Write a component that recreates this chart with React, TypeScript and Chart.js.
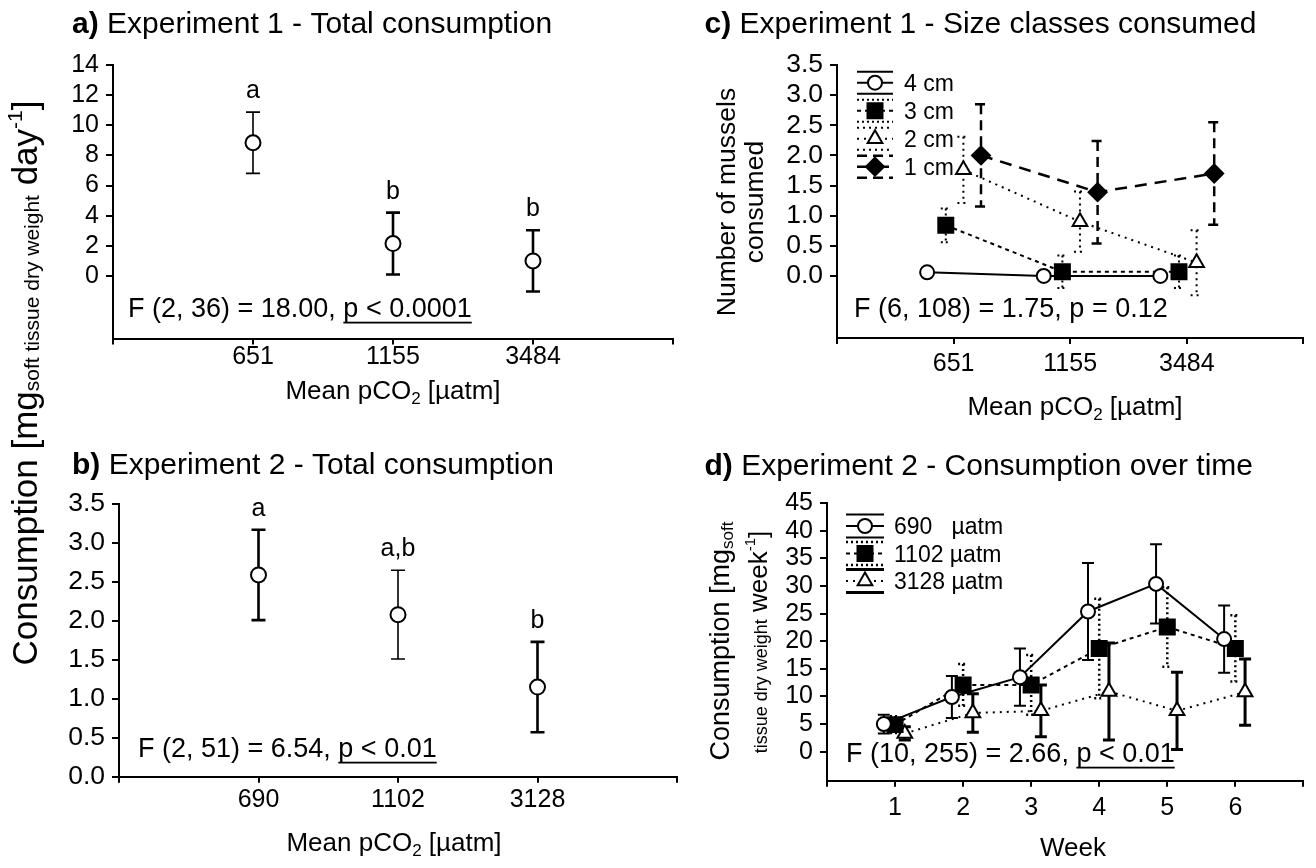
import React, { useEffect, useRef } from 'react';
import { Chart, registerables } from 'chart.js';

Chart.register(...registerables);

const FONT = '"Liberation Sans", Arial, Helvetica, sans-serif';
const PAGE_W = 1316;
const PAGE_H = 868;

// ---------------- data ----------------
const expOneCo2 = ['651', '1155', '3484'];
const expTwoCo2 = ['690', '1102', '3128'];
const weeks = ['1', '2', '3', '4', '5', '6'];

// a) Experiment 1 - total consumption
const aMean = [8.84, 2.15, 1.0];
const aSE = [2.03, 2.05, 2.03];
const aGroups = ['a', 'b', 'b'];
const aYTicks = [0, 2, 4, 6, 8, 10, 12, 14];

// b) Experiment 2 - total consumption
const bMean = [2.59, 2.08, 1.15];
const bSE = [0.58, 0.57, 0.58];
const bGroups = ['a', 'a,b', 'b'];
const bYTicks = [0, 0.5, 1, 1.5, 2, 2.5, 3, 3.5];

// c) Experiment 1 - size classes consumed
const cSizeLabels = ['4 cm', '3 cm', '2 cm', '1 cm'];
const c4cm = [0.06, 0.0, 0.0];
const c4cmSE = [0, 0, 0];
const c3cm = [0.84, 0.07, 0.07];
const c3cmSE = [0.28, 0.27, 0.27];
const c2cm = [1.76, 0.9, 0.22];
const c2cmSE = [0.55, 0.5, 0.54];
const c1cm = [2.0, 1.39, 1.7];
const c1cmSE = [0.85, 0.85, 0.85];
const cYTicks = [0, 0.5, 1, 1.5, 2, 2.5, 3, 3.5];

// d) Experiment 2 - consumption over time
const dLegend = ['690   µatm', '1102 µatm', '3128 µatm'];
const d690 = [5.0, 9.9, 13.5, 25.4, 30.4, 20.4];
const d690SE = [1.7, 3.8, 5.2, 8.8, 7.2, 6.1];
const d1102 = [4.9, 12.1, 12.1, 18.7, 22.6, 18.7];
const d1102SE = [1.5, 3.8, 5.4, 9.0, 7.2, 6.0];
const d3128 = [3.3, 7.0, 7.4, 10.9, 7.4, 10.8];
const d3128SE = [1.2, 3.5, 4.7, 8.8, 7.0, 6.0];
const dYTicks = [0, 5, 10, 15, 20, 25, 30, 35, 40, 45];

// ---------------- text helpers ----------------
type Seg = { t: string; size: number; bold?: boolean; dy?: number; u?: boolean };

const segFont = (s: Seg) => `${s.bold ? 'bold ' : ''}${s.size}px ${FONT}`;

function richWidth(ctx: CanvasRenderingContext2D, segs: Seg[]) {
  let w = 0;
  for (const s of segs) {
    ctx.font = segFont(s);
    w += ctx.measureText(s.t).width;
  }
  return w;
}

function drawRich(ctx: CanvasRenderingContext2D, segs: Seg[], x: number, y: number, align: 'left' | 'center') {
  const total = richWidth(ctx, segs);
  let cx = align === 'center' ? x - total / 2 : x;
  ctx.save();
  ctx.fillStyle = '#000';
  ctx.textAlign = 'left';
  ctx.textBaseline = 'alphabetic';
  for (const s of segs) {
    ctx.font = segFont(s);
    const w = ctx.measureText(s.t).width;
    ctx.fillText(s.t, cx, y + (s.dy || 0));
    if (s.u) ctx.fillRect(cx, y + 5, w, 1.8);
    cx += w;
  }
  ctx.restore();
}

function drawRotated(ctx: CanvasRenderingContext2D, segs: Seg[], baseX: number, centerY: number) {
  ctx.save();
  ctx.translate(baseX, centerY);
  ctx.rotate(-Math.PI / 2);
  drawRich(ctx, segs, 0, 0, 'center');
  ctx.restore();
}

type MarkerKind = 'circle' | 'rect' | 'triangle' | 'rectRot';

function drawMarker(ctx: CanvasRenderingContext2D, kind: MarkerKind, x: number, y: number, r: number, fill: string) {
  ctx.save();
  ctx.setLineDash([]);
  ctx.lineWidth = 2;
  ctx.strokeStyle = '#000';
  ctx.fillStyle = fill;
  ctx.beginPath();
  if (kind === 'circle') {
    ctx.arc(x, y, r, 0, Math.PI * 2);
  } else if (kind === 'rect') {
    const s = r * Math.SQRT1_2;
    ctx.rect(x - s, y - s, 2 * s, 2 * s);
  } else if (kind === 'triangle') {
    for (let k = 0; k < 3; k++) {
      const a = (k * 2 * Math.PI) / 3;
      const px = x + Math.sin(a) * r;
      const py = y - Math.cos(a) * r;
      if (k === 0) ctx.moveTo(px, py);
      else ctx.lineTo(px, py);
    }
    ctx.closePath();
  } else {
    ctx.moveTo(x, y - r);
    ctx.lineTo(x + r, y);
    ctx.lineTo(x, y + r);
    ctx.lineTo(x - r, y);
    ctx.closePath();
  }
  ctx.fill();
  ctx.stroke();
  ctx.restore();
}

type SeriesStyle = {
  kind: MarkerKind;
  r: number;
  fill: string;
  dash: number[];
  width: number;
  errDash: number[];
  errWidth: number;
  cap: number;
  offset: number;
};

function drawLegendRow(ctx: CanvasRenderingContext2D, st: SeriesStyle, cx: number, cy: number, half: number, gap: number) {
  ctx.save();
  ctx.strokeStyle = '#000';
  ctx.setLineDash(st.errDash);
  ctx.lineWidth = st.errWidth;
  ctx.beginPath();
  ctx.moveTo(cx - half, cy - gap);
  ctx.lineTo(cx + half, cy - gap);
  ctx.moveTo(cx - half, cy + gap);
  ctx.lineTo(cx + half, cy + gap);
  ctx.stroke();
  ctx.setLineDash(st.dash);
  ctx.lineWidth = st.width;
  ctx.beginPath();
  ctx.moveTo(cx - half, cy);
  ctx.lineTo(cx + half, cy);
  ctx.stroke();
  ctx.restore();
  drawMarker(ctx, st.kind, cx, cy, st.r, st.fill);
}

// ---------------- error bars plugin ----------------
function drawErrorBars(chart: any) {
  const ctx: CanvasRenderingContext2D = chart.ctx;
  const xs = chart.scales.x;
  const ys = chart.scales.y;
  chart.data.datasets.forEach((ds: any) => {
    if (!ds.se) return;
    ctx.save();
    ctx.strokeStyle = '#000';
    ctx.setLineDash(ds.seDash || []);
    ds.data.forEach((p: any, i: number) => {
      const e = ds.se[i];
      if (!e) return;
      ctx.lineWidth = Array.isArray(ds.seWidth) ? ds.seWidth[i] : ds.seWidth;
      const x = xs.getPixelForValue(p.x);
      const yt = ys.getPixelForValue(p.y + e);
      const yb = ys.getPixelForValue(p.y - e);
      const hw = ds.capHalf;
      ctx.beginPath();
      ctx.moveTo(x, yt);
      ctx.lineTo(x, yb);
      ctx.moveTo(x - hw, yt);
      ctx.lineTo(x + hw, yt);
      ctx.moveTo(x - hw, yb);
      ctx.lineTo(x + hw, yb);
      ctx.stroke();
    });
    ctx.restore();
  });
}

// ---------------- chart config builder ----------------
type Area = { left: number; top: number; right: number; bottom: number };

type Spec = {
  area: Area;
  xMin: number;
  xMax: number;
  xTicks: number[];
  xLabels: string[];
  xPad: number;
  yMin: number;
  yMax: number;
  yTicks: number[];
  yDecimals: number;
  yFont: number;
  datasets: any[];
  decorate: (ctx: CanvasRenderingContext2D, chart: any) => void;
};

function makeConfig(spec: Spec): any {
  const yW = 90;
  const xH = 60;
  const { area } = spec;
  return {
    type: 'line',
    data: { datasets: spec.datasets },
    options: {
      responsive: false,
      animation: false,
      devicePixelRatio: 1,
      events: [],
      layout: {
        padding: {
          left: area.left - yW,
          top: area.top,
          right: PAGE_W - area.right,
          bottom: PAGE_H - area.bottom - xH,
        },
      },
      plugins: { legend: { display: false }, tooltip: { enabled: false } },
      scales: {
        x: {
          type: 'linear',
          min: spec.xMin,
          max: spec.xMax,
          afterBuildTicks: (s: any) => {
            s.ticks = spec.xTicks.map((v) => ({ value: v }));
          },
          afterFit: (s: any) => {
            s.height = xH;
          },
          ticks: {
            callback: (v: any) => {
              const i = Math.round(Number(v)) - 1;
              return i >= 0 && i < spec.xLabels.length ? spec.xLabels[i] : '';
            },
            font: { family: FONT, size: 25, lineHeight: 1.2 },
            color: '#000',
            padding: spec.xPad,
            maxRotation: 0,
            minRotation: 0,
            autoSkip: false,
          },
          grid: {
            display: true,
            drawOnChartArea: false,
            drawTicks: true,
            tickLength: 6,
            tickWidth: 2,
            lineWidth: 2,
            tickColor: '#000',
          },
          border: { display: true, color: '#000', width: 2 },
        },
        y: {
          type: 'linear',
          min: spec.yMin,
          max: spec.yMax,
          afterBuildTicks: (s: any) => {
            s.ticks = spec.yTicks.map((v) => ({ value: v }));
          },
          afterFit: (s: any) => {
            s.width = yW;
          },
          ticks: {
            callback: (v: any) => Number(v).toFixed(spec.yDecimals),
            font: { family: FONT, size: spec.yFont, lineHeight: 1.2 },
            color: '#000',
            padding: 7,
            autoSkip: false,
          },
          grid: {
            display: true,
            drawOnChartArea: false,
            drawTicks: true,
            tickLength: 7,
            tickWidth: 2,
            lineWidth: 2,
            tickColor: '#000',
          },
          border: { display: true, color: '#000', width: 2 },
        },
      },
    },
    plugins: [
      {
        id: 'decor',
        beforeDatasetsDraw: (c: any) => drawErrorBars(c),
        afterDraw: (c: any) => spec.decorate(c.ctx, c),
      },
    ],
  };
}

function seriesDataset(values: number[], se: number[], st: SeriesStyle, showLine: boolean, seWidth?: number[]) {
  return {
    data: values.map((v, i) => ({ x: i + 1 + st.offset, y: v })),
    se,
    seDash: st.errDash,
    seWidth: seWidth || st.errWidth,
    capHalf: st.cap,
    showLine,
    borderColor: '#000',
    borderWidth: st.width,
    borderDash: st.dash,
    tension: 0,
    fill: false,
    pointStyle: st.kind,
    pointRadius: st.r,
    pointBackgroundColor: st.fill,
    pointBorderColor: '#000',
    pointBorderWidth: 2,
    clip: false,
  };
}

const meanPco2 = (size: number): Seg[] => [
  { t: 'Mean pCO', size },
  { t: '2', size: Math.round(size * 0.65), dy: 5 },
  { t: ' [µatm]', size },
];

const openCircle: SeriesStyle = {
  kind: 'circle', r: 7.5, fill: '#fff', dash: [], width: 2, errDash: [], errWidth: 2, cap: 7, offset: 0,
};

// panel c series styles
const cStyles: SeriesStyle[] = [
  { kind: 'circle', r: 7, fill: '#fff', dash: [], width: 2, errDash: [], errWidth: 2, cap: 6, offset: -0.227 },
  { kind: 'rect', r: 10.6, fill: '#000', dash: [4, 4], width: 2, errDash: [2, 3], errWidth: 2, cap: 5, offset: -0.067 },
  { kind: 'triangle', r: 8.5, fill: '#fff', dash: [2, 5], width: 2, errDash: [2, 4], errWidth: 2, cap: 6, offset: 0.084 },
  { kind: 'rectRot', r: 9, fill: '#000', dash: [12, 8], width: 2.5, errDash: [10, 6], errWidth: 2.5, cap: 6, offset: 0.235 },
];

// panel d series styles
const dStyles: SeriesStyle[] = [
  { kind: 'circle', r: 7, fill: '#fff', dash: [], width: 2, errDash: [], errWidth: 2, cap: 6, offset: -0.165 },
  { kind: 'rect', r: 10.6, fill: '#000', dash: [4, 4], width: 2, errDash: [2, 3], errWidth: 2.5, cap: 5, offset: 0 },
  { kind: 'triangle', r: 8.5, fill: '#fff', dash: [2, 5], width: 2, errDash: [], errWidth: 3, cap: 6, offset: 0.143 },
];

function drawGroupLetters(ctx: CanvasRenderingContext2D, chart: any, means: number[], se: number[], letters: string[]) {
  const xs = chart.scales.x;
  const ys = chart.scales.y;
  ctx.save();
  ctx.fillStyle = '#000';
  ctx.font = `25px ${FONT}`;
  ctx.textAlign = 'center';
  ctx.textBaseline = 'alphabetic';
  letters.forEach((l, i) => {
    const x = xs.getPixelForValue(i + 1);
    const yTop = ys.getPixelForValue(means[i] + se[i]);
    ctx.fillText(l, x, yTop - 14);
  });
  ctx.restore();
}

// ---------------- panels ----------------
const buildA = () =>
  makeConfig({
    area: { left: 113, top: 65, right: 673, bottom: 338.5 },
    xMin: 0,
    xMax: 4,
    xTicks: [0, 1, 2, 3, 4],
    xLabels: expOneCo2,
    xPad: -2,
    yMin: -4.15,
    yMax: 14,
    yTicks: aYTicks,
    yDecimals: 0,
    yFont: 25,
    datasets: [seriesDataset(aMean, aSE, openCircle, false, [1.6, 2.6, 2.6])],
    decorate: (ctx, chart) => {
      drawRich(ctx, [{ t: 'a)', size: 30, bold: true }, { t: ' Experiment 1 - Total consumption', size: 30 }], 72, 33, 'left');
      drawGroupLetters(ctx, chart, aMean, aSE, aGroups);
      drawRich(ctx, [{ t: 'F (2, 36) = 18.00, ', size: 27 }, { t: 'p < 0.0001', size: 27, u: true }], 128, 316.7, 'left');
      drawRich(ctx, meanPco2(26), 393, 399, 'center');
      // shared y-axis title for panels a and b
      drawRotated(
        ctx,
        [
          { t: 'Consumption [mg', size: 35 },
          { t: 'soft tissue dry weight', size: 21, dy: 2 },
          { t: ' day', size: 35 },
          { t: '-1', size: 21, dy: -15 },
          { t: ']', size: 35 },
        ],
        37,
        383,
      );
    },
  });

const buildB = () =>
  makeConfig({
    area: { left: 119, top: 504, right: 677, bottom: 776.7 },
    xMin: 0,
    xMax: 4,
    xTicks: [0, 1, 2, 3, 4],
    xLabels: expTwoCo2,
    xPad: 2,
    yMin: 0,
    yMax: 3.5,
    yTicks: bYTicks,
    yDecimals: 1,
    yFont: 26.5,
    datasets: [seriesDataset(bMean, bSE, openCircle, false, [2.6, 1.6, 2.6])],
    decorate: (ctx, chart) => {
      drawRich(ctx, [{ t: 'b)', size: 30, bold: true }, { t: ' Experiment 2 - Total consumption', size: 30 }], 72, 473.5, 'left');
      drawGroupLetters(ctx, chart, bMean, bSE, bGroups);
      drawRich(ctx, [{ t: 'F (2, 51) = 6.54, ', size: 27 }, { t: 'p < 0.01', size: 27, u: true }], 138, 756.7, 'left');
      drawRich(ctx, meanPco2(26), 394, 851, 'center');
    },
  });

const buildC = () =>
  makeConfig({
    area: { left: 837, top: 65, right: 1313, bottom: 338 },
    xMin: 0,
    xMax: 4,
    xTicks: [0, 1, 2, 3, 4],
    xLabels: expOneCo2,
    xPad: 5,
    yMin: -1.03,
    yMax: 3.5,
    yTicks: cYTicks,
    yDecimals: 1,
    yFont: 26.5,
    datasets: [
      seriesDataset(c4cm, c4cmSE, cStyles[0], true),
      seriesDataset(c3cm, c3cmSE, cStyles[1], true),
      seriesDataset(c2cm, c2cmSE, cStyles[2], true),
      seriesDataset(c1cm, c1cmSE, cStyles[3], true),
    ],
    decorate: (ctx) => {
      drawRich(ctx, [{ t: 'c)', size: 30, bold: true }, { t: ' Experiment 1 - Size classes consumed', size: 30 }], 704.5, 33, 'left');
      drawRich(ctx, [{ t: 'F (6, 108) = 1.75, p = 0.12', size: 27 }], 854, 316.7, 'left');
      drawRich(ctx, meanPco2(26), 1075, 415, 'center');
      drawRotated(ctx, [{ t: 'Number of mussels', size: 26.5 }], 735, 202);
      drawRotated(ctx, [{ t: 'consumed', size: 26.5 }], 763, 202);
      cSizeLabels.forEach((lab, k) => {
        const cy = 82.7 + k * 28;
        drawLegendRow(ctx, cStyles[k], 875, cy, 18, 11);
        drawRich(ctx, [{ t: lab, size: 23 }], 904, cy + 8, 'left');
      });
    },
  });

const buildD = () =>
  makeConfig({
    area: { left: 827, top: 503.3, right: 1314, bottom: 780.7 },
    xMin: 0,
    xMax: 7,
    xTicks: [0, 1, 2, 3, 4, 5, 6, 7],
    xLabels: weeks,
    xPad: 6,
    yMin: -5.26,
    yMax: 45,
    yTicks: dYTicks,
    yDecimals: 0,
    yFont: 25,
    datasets: [
      seriesDataset(d690, d690SE, dStyles[0], true),
      seriesDataset(d1102, d1102SE, dStyles[1], true),
      seriesDataset(d3128, d3128SE, dStyles[2], true),
    ],
    decorate: (ctx) => {
      drawRich(ctx, [{ t: 'd)', size: 30, bold: true }, { t: ' Experiment 2 - Consumption over time', size: 30 }], 704.5, 475, 'left');
      drawRich(ctx, [{ t: 'F (10, 255) = 2.66, ', size: 27 }, { t: 'p < 0.01', size: 27, u: true }], 846, 761.7, 'left');
      drawRich(ctx, [{ t: 'Week', size: 26 }], 1073, 856, 'center');
      drawRotated(ctx, [{ t: 'Consumption [mg', size: 27 }, { t: 'soft', size: 17, dy: 4 }], 729, 641);
      drawRotated(
        ctx,
        [
          { t: 'tissue dry weight', size: 18 },
          { t: ' week', size: 26 },
          { t: '-1', size: 15, dy: -12 },
          { t: ']', size: 26 },
        ],
        767,
        642,
      );
      dLegend.forEach((lab, k) => {
        const cy = 526 + k * 27.5;
        drawLegendRow(ctx, dStyles[k], 865, cy, 19, 11.5);
        drawRich(ctx, [{ t: lab, size: 23 }], 894, cy + 8, 'left');
      });
    },
  });

function Panel({ build }: { build: () => any }) {
  const ref = useRef<HTMLCanvasElement>(null);
  useEffect(() => {
    if (!ref.current) return;
    const chart = new Chart(ref.current, build());
    return () => chart.destroy();
  }, [build]);
  return (
    <canvas
      ref={ref}
      width={PAGE_W}
      height={PAGE_H}
      style={{ position: 'absolute', left: 0, top: 0, width: PAGE_W, height: PAGE_H }}
    />
  );
}

export default function App() {
  useEffect(() => {
    document.body.style.margin = '0';
  }, []);
  return (
    <div style={{ position: 'absolute', left: 0, top: 0, width: PAGE_W, height: PAGE_H, background: '#fff', overflow: 'hidden' }}>
      <Panel build={buildA} />
      <Panel build={buildB} />
      <Panel build={buildC} />
      <Panel build={buildD} />
    </div>
  );
}
